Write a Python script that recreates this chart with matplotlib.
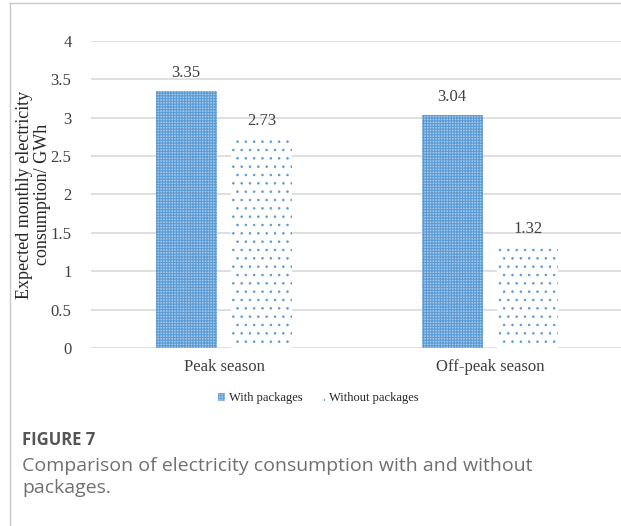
import matplotlib.pyplot as plt
from matplotlib.lines import Line2D
import numpy as np

# data
categories = ["Peak season", "Off-peak season"]
with_packages = [3.35, 3.04]
without_packages = [2.73, 1.32]
series_names = ["With packages", "Without packages"]

fig = plt.figure(figsize=(6.21, 5.26), dpi=100)
ax = fig.add_axes([91 / 621, 178 / 526, 532 / 621, 307 / 526])

x = np.arange(len(categories))
w = 0.229
off = 0.142

plt.rcParams["hatch.linewidth"] = 0.8
b1 = ax.bar(x - off, with_packages, w, color="#a8c9ea", edgecolor="#5b9bd5",
            hatch="++++++", linewidth=0, zorder=3, label=series_names[0])
plt.rcParams["hatch.linewidth"] = 0.6
b2 = ax.bar(x + off, without_packages, w, color="white", edgecolor="#5b9bd5",
            hatch="..", linewidth=0, zorder=3, label=series_names[1])
for p in b1:
    if hasattr(p, "set_hatch_linewidth"):
        p.set_hatch_linewidth(0.8)
for p in b2:
    if hasattr(p, "set_hatch_linewidth"):
        p.set_hatch_linewidth(0.6)

serif = ["Liberation Serif", "DejaVu Serif"]
for bars, vals in ((b1, with_packages), (b2, without_packages)):
    for r, v in zip(bars, vals):
        ax.annotate(f"{v:.2f}", (r.get_x() + r.get_width() / 2, v),
                    xytext=(0, 7), textcoords="offset points", ha="center",
                    va="bottom", fontsize=12, color="#404040", family=serif)

ax.set_xlim(-0.5, 1.5)
ax.set_ylim(0, 4)
ax.set_yticks(np.arange(0, 4.01, 0.5))
ax.set_yticklabels(["0", "0.5", "1", "1.5", "2", "2.5", "3", "3.5", "4"])
ax.set_xticks(x)
ax.set_xticklabels(categories)
ax.grid(axis="y", color="#d9d9d9", linewidth=1.2, zorder=0)
ax.tick_params(length=0, labelsize=12, labelcolor="#404040", pad=14)
ax.tick_params(axis="x", pad=8)
for lbl in ax.get_xticklabels() + ax.get_yticklabels():
    lbl.set_family(serif)
for s in ax.spines.values():
    s.set_visible(False)

ax.set_ylabel("Expected monthly electricity\nconsumption/ GWh", fontsize=13,
              family=serif, color="#262626", linespacing=1.05, va="center")
ax.yaxis.set_label_coords(-0.108, 0.5)

fig.legend(handles=[b1, b2], loc="center", bbox_to_anchor=(318 / 621, 1 - 398 / 526),
           ncol=2, frameon=False, prop={"family": serif, "size": 9},
           handlelength=0.6, handleheight=0.6, handletextpad=0.3, columnspacing=1.2,
           labelcolor="#262626")

# page border
fig.add_artist(Line2D([10 / 621, 10 / 621], [0, 1 - 3 / 526], color="#c8c8c8", lw=1))
fig.add_artist(Line2D([10 / 621, 1], [1 - 3 / 526, 1 - 3 / 526], color="#c8c8c8", lw=1))

fig.text(22 / 621, 1 - 440 / 526, "FIGURE 7", fontsize=12, fontweight="bold",
         color="#555555", family="Open Sans", va="center")
fig.text(22 / 621, 1 - 477 / 526,
         "Comparison of electricity consumption with and without\npackages.",
         fontsize=14, color="#707070", family="Open Sans", va="center", linespacing=1.25)

fig.savefig("out.png", dpi=100)
